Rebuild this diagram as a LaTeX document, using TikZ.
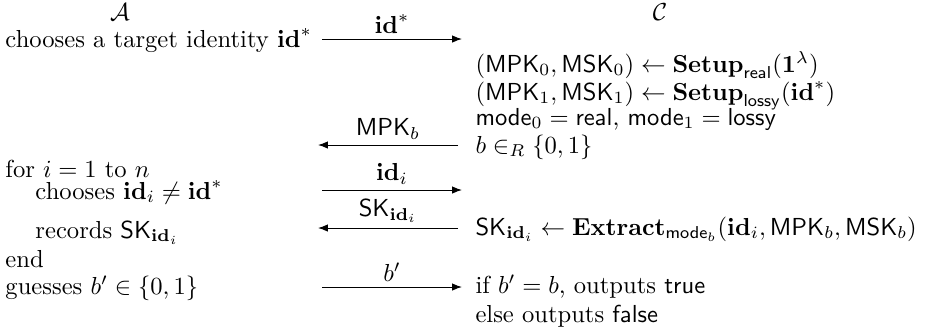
\documentclass[tikz,border=0pt]{standalone}
\usepackage{amsmath,amssymb}
\usetikzlibrary{arrows.meta}

\begin{document}
\begin{tikzpicture}[x=0.4065pt,y=-0.4065pt, >={Latex[length=4pt,width=3pt]},
  txt/.style={anchor=base west,inner sep=0pt},
  party/.style={inner sep=0pt},
  msg/.style={->},
  lbl/.style={above,inner sep=2pt}]
  \useasboundingbox (0,0) rectangle (925,333);

  % the two parties
  \node[party] (adv)  at (120,12) {$\mathcal{A}$};
  \node[party] (chal) at (660,12) {$\mathcal{C}$};

  % adversary side
  \node[txt] (a1) at (5,47)   {chooses a target identity $\mathbf{id}^*$};
  \node[txt] (a2) at (5,177)  {for $i=1$ to $n$};
  \node[txt] (a3) at (35,199) {chooses $\mathbf{id}_i\neq\mathbf{id}^*$};
  \node[txt] (a4) at (35,238) {records $\mathsf{SK}_{\mathbf{id}_i}$};
  \node[txt] (a5) at (5,267)  {end};
  \node[txt] (a6) at (5,294)  {guesses $b'\in\{0,1\}$};

  % challenger side
  \node[txt] (c1) at (475,72)  {$(\mathsf{MPK}_0,\mathsf{MSK}_0)\leftarrow\mathbf{Setup}_{\mathsf{real}}(\mathbf{1}^\lambda)$};
  \node[txt] (c2) at (475,100) {$(\mathsf{MPK}_1,\mathsf{MSK}_1)\leftarrow\mathbf{Setup}_{\mathsf{lossy}}(\mathbf{id}^*)$};
  \node[txt] (c3) at (475,125) {$\mathsf{mode}_0=\mathsf{real}$, $\mathsf{mode}_1=\mathsf{lossy}$};
  \node[txt] (c4) at (475,153) {$b\in_R\{0,1\}$};
  \node[txt] (c5) at (475,235) {$\mathsf{SK}_{\mathbf{id}_i}\leftarrow\mathbf{Extract}_{\mathsf{mode}_b}(\mathbf{id}_i,\mathsf{MPK}_b,\mathsf{MSK}_b)$};
  \node[txt] (c6) at (475,293) {if $b'=b$, outputs \textsf{true}};
  \node[txt] (c7) at (475,322) {else outputs \textsf{false}};

  % message ends
  \coordinate (m1a) at (322,39);  \coordinate (m1c) at (462,39);
  \coordinate (m2a) at (318,145); \coordinate (m2c) at (458,145);
  \coordinate (m3a) at (322,190); \coordinate (m3c) at (462,190);
  \coordinate (m4a) at (318,228); \coordinate (m4c) at (458,228);
  \coordinate (m5a) at (322,287); \coordinate (m5c) at (462,287);

  \draw[msg] (m1a) -- node[lbl] {$\mathbf{id}^*$} (m1c);
  \draw[msg] (m2c) -- node[lbl] {$\mathsf{MPK}_b$} (m2a);
  \draw[msg] (m3a) -- node[lbl] {$\mathbf{id}_i$} (m3c);
  \draw[msg] (m4c) -- node[lbl] {$\mathsf{SK}_{\mathbf{id}_i}$} (m4a);
  \draw[msg] (m5a) -- node[lbl] {$b'$} (m5c);
\end{tikzpicture}
\end{document}
